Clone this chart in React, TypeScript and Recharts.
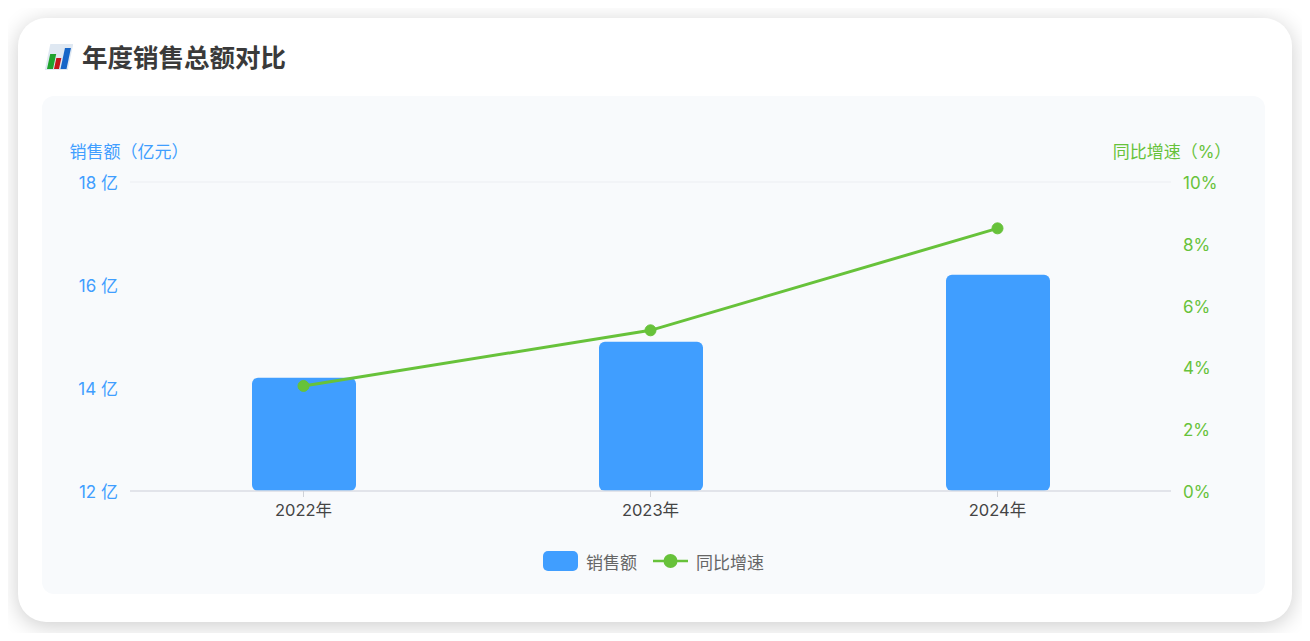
import { ComposedChart, Bar, Line, CartesianGrid, XAxis, YAxis, Legend } from 'recharts';

const years = ['2022年', '2023年', '2024年'];
const salesValues = [14.2, 14.9, 16.2];
const growthValues = [3.4, 5.2, 8.5];
const salesTicks = [12, 14, 16, 18];
const growthTicks = [0, 2, 4, 6, 8, 10];

const chartData = years.map((year, i) => ({ year, sales: salesValues[i], growth: growthValues[i] }));

const BLUE = '#409eff';
const GREEN = '#67c23a';
const FONT = 'Inter, "Noto Sans CJK SC", sans-serif';

function ChartIcon() {
    return (
        <svg width="30" height="28" viewBox="0 0 30 28" style={{ position: 'absolute', left: 43, top: 43 }}>
            <g transform="translate(2 26) skewX(-12)">
                <rect x="0" y="-25" width="23" height="26" fill="#dfe8f2" />
                <rect x="2" y="-15" width="6" height="15" fill="#1fa32e" />
                <rect x="9" y="-11" width="5" height="11" fill="#c4161c" />
                <rect x="15.5" y="-21" width="6" height="21" fill="#1565c8" />
            </g>
        </svg>
    );
}

function LegendContent({ payload }: any) {
    return (
        <div style={{ height: 50, boxSizing: 'border-box', paddingTop: 5, display: 'flex', justifyContent: 'center', alignItems: 'flex-start', fontSize: 17, color: '#666', fontFamily: FONT }}>
            {(payload || []).map((entry: any) => (
                <div key={entry.value} style={{ display: 'flex', alignItems: 'center', height: 24, marginRight: entry.dataKey === 'sales' ? 16 : 0 }}>
                    {entry.dataKey === 'sales' ? (
                        <span style={{ width: 35, height: 20, borderRadius: 5, background: entry.color, marginRight: 8 }} />
                    ) : (
                        <svg width="35" height="20" style={{ marginRight: 8 }}>
                            <line x1="0" y1="10" x2="35" y2="10" stroke={entry.color} strokeWidth="2.5" />
                            <circle cx="17.5" cy="10" r="7" fill={entry.color} />
                        </svg>
                    )}
                    <span>{entry.value}</span>
                </div>
            ))}
        </div>
    );
}

export default function App() {
    return (
        <div style={{ position: 'relative', width: 1310, height: 641, margin: -8, background: '#fff', overflow: 'hidden', fontFamily: FONT }}>
            <div style={{ position: 'absolute', left: 18, top: 18, width: 1274, height: 604, borderRadius: 28, background: '#fff', boxShadow: '0 4px 22px rgba(0,0,0,0.2)' }} />
            <ChartIcon />
            <div style={{ position: 'absolute', left: 82, top: 41, fontSize: 25.5, lineHeight: '34px', fontWeight: 700, color: '#3a3a3a' }}>年度销售总额对比</div>
            <div style={{ position: 'absolute', left: 42, top: 96, width: 1223, height: 498, borderRadius: 12, background: '#f8fafc' }}>
                <ComposedChart width={1223} height={498} data={chartData} margin={{ top: 86, right: 0, bottom: 0, left: 0 }}>
                    <CartesianGrid horizontal vertical={false} stroke="#eceef2" strokeWidth={1} />
                    <XAxis
                        dataKey="year"
                        height={53}
                        axisLine={{ stroke: '#dcdfe6', strokeWidth: 1.5 }}
                        tickLine={{ stroke: '#cfd2d8' }}
                        tickSize={6}
                        tickMargin={7}
                        tick={{ fill: '#444', fontSize: 16.5, fontFamily: FONT }}
                    />
                    <YAxis
                        yAxisId="sales"
                        width={88}
                        domain={[12, 18]}
                        ticks={salesTicks}
                        axisLine={false}
                        tickLine={false}
                        tickMargin={12}
                        tickSize={0}
                        tickFormatter={(v: number) => `${v} 亿`}
                        tick={{ fill: BLUE, fontSize: 17, fontFamily: FONT, dy: 1 }}
                        label={{ value: '销售额（亿元）', position: 'top', fill: BLUE, fontSize: 17, fontFamily: FONT, dx: 43, dy: -19 }}
                    />
                    <YAxis
                        yAxisId="growth"
                        orientation="right"
                        width={94}
                        domain={[0, 10]}
                        ticks={growthTicks}
                        axisLine={false}
                        tickLine={false}
                        tickMargin={12}
                        tickSize={0}
                        tickFormatter={(v: number) => `${v}%`}
                        tick={{ fill: GREEN, fontSize: 17, fontFamily: FONT, dy: 1 }}
                        label={{ value: '同比增速（%）', position: 'top', fill: GREEN, fontSize: 17, fontFamily: FONT, dx: -46, dy: -19 }}
                    />
                    <Legend content={<LegendContent />} verticalAlign="bottom" itemSorter={null} />
                    <Bar yAxisId="sales" dataKey="sales" name="销售额" fill={BLUE} barSize={104} radius={6} isAnimationActive={false} />
                    <Line
                        yAxisId="growth"
                        dataKey="growth"
                        name="同比增速"
                        type="linear"
                        stroke={GREEN}
                        strokeWidth={3}
                        dot={{ r: 5.5, fill: GREEN, stroke: GREEN, strokeWidth: 1 }}
                        isAnimationActive={false}
                    />
                </ComposedChart>
            </div>
        </div>
    );
}
